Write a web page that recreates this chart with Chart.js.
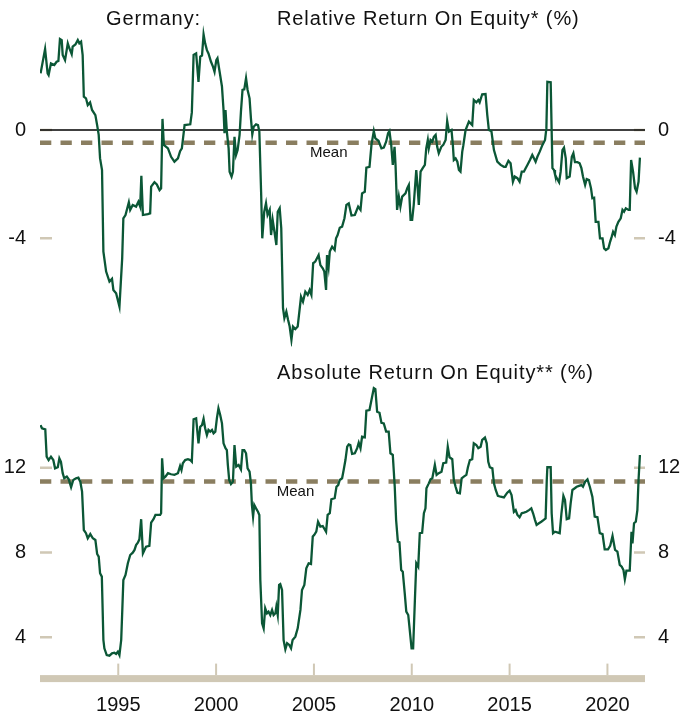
<!DOCTYPE html>
<html>
<head>
<meta charset="utf-8">
<script src="https://cdn.jsdelivr.net/npm/chart.js@4.4.0/dist/chart.umd.min.js"></script>
<style>
  body { margin: 0; background: #fff; }
  #wrap { position: relative; width: 683px; height: 715px; font-family: 'Liberation Sans', Arial, sans-serif; color: #111; }
  #wrap canvas { position: absolute; left: 0; }
  .title { position: absolute; font-size: 20px; line-height: 20px; letter-spacing: 0.9px; white-space: nowrap; }
</style>
</head>
<body>
<div id="wrap">
  <canvas id="chart-rel" width="683" height="360" style="top:0"></canvas>
  <canvas id="chart-abs" width="683" height="355" style="top:360px"></canvas>
  <div class="title" style="left:106px; top:8px;">Germany:</div>
  <div class="title" style="left:277px; top:8px;">Relative Return On Equity* (%)</div>
  <div class="title" style="left:277px; top:362px;">Absolute Return On Equity** (%)</div>
</div>
<script>
// Relative ROE (percentage points vs. market)
const relYears = [
  1991.03, 1991.26, 1991.39, 1991.44, 1991.56, 1991.73, 1991.85, 1991.94, 1992.02, 1992.11,
  1992.16, 1992.28, 1992.42, 1992.50, 1992.62, 1992.67, 1992.81, 1992.93, 1993.01, 1993.10,
  1993.18, 1993.24, 1993.35, 1993.44, 1993.56, 1993.66, 1993.83, 1993.92, 1994.00, 1994.07,
  1994.17, 1994.24, 1994.38, 1994.55, 1994.68, 1994.75, 1994.89, 1995.06, 1995.20, 1995.26,
  1995.37, 1995.54, 1995.61, 1995.74, 1995.91, 1996.03, 1996.12, 1996.18, 1996.26, 1996.51,
  1996.63, 1996.68, 1996.85, 1996.97, 1997.11, 1997.19, 1997.26, 1997.33, 1997.54, 1997.70,
  1997.87, 1998.05, 1998.16, 1998.25, 1998.39, 1998.68, 1998.76, 1998.85, 1998.98, 1999.10,
  1999.19, 1999.28, 1999.36, 1999.44, 1999.53, 1999.61, 1999.74, 1999.84, 1999.92, 2000.01,
  2000.07, 2000.18, 2000.30, 2000.38, 2000.43, 2000.48, 2000.55, 2000.64, 2000.69, 2000.79,
  2000.86, 2000.94, 2001.02, 2001.10, 2001.20, 2001.27, 2001.35, 2001.44, 2001.53, 2001.61,
  2001.71, 2001.78, 2001.85, 2001.92, 2002.04, 2002.14, 2002.21, 2002.30, 2002.36, 2002.46,
  2002.55, 2002.63, 2002.74, 2002.81, 2002.89, 2002.98, 2003.08, 2003.15, 2003.25, 2003.33,
  2003.42, 2003.49, 2003.59, 2003.68, 2003.76, 2003.85, 2003.93, 2004.05, 2004.17, 2004.34,
  2004.44, 2004.56, 2004.68, 2004.78, 2004.87, 2004.96, 2005.07, 2005.24, 2005.33, 2005.45,
  2005.53, 2005.62, 2005.67, 2005.75, 2005.81, 2005.93, 2006.06, 2006.13, 2006.21, 2006.32,
  2006.44, 2006.56, 2006.66, 2006.78, 2006.92, 2007.09, 2007.26, 2007.38, 2007.46, 2007.60,
  2007.68, 2007.84, 2007.94, 2008.06, 2008.14, 2008.30, 2008.45, 2008.57, 2008.69, 2008.79,
  2008.86, 2008.95, 2009.03, 2009.12, 2009.17, 2009.25, 2009.34, 2009.42, 2009.51, 2009.68,
  2009.77, 2009.85, 2009.94, 2010.02, 2010.10, 2010.23, 2010.29, 2010.36, 2010.45, 2010.56,
  2010.67, 2010.74, 2010.82, 2010.87, 2010.96, 2011.05, 2011.13, 2011.22, 2011.30, 2011.38,
  2011.51, 2011.61, 2011.73, 2011.81, 2011.90, 2012.03, 2012.10, 2012.15, 2012.24, 2012.33,
  2012.41, 2012.49, 2012.58, 2012.63, 2012.75, 2012.92, 2013.09, 2013.17, 2013.30, 2013.40,
  2013.47, 2013.60, 2013.77, 2013.86, 2013.94, 2014.07, 2014.20, 2014.37, 2014.54, 2014.71,
  2014.80, 2014.94, 2015.05, 2015.17, 2015.26, 2015.40, 2015.51, 2015.62, 2015.73, 2015.82,
  2015.91, 2016.04, 2016.16, 2016.25, 2016.33, 2016.42, 2016.54, 2016.68, 2016.81, 2016.88,
  2016.93, 2017.10, 2017.15, 2017.19, 2017.27, 2017.32, 2017.41, 2017.53, 2017.61, 2017.70,
  2017.78, 2017.87, 2017.92, 2018.07, 2018.18, 2018.26, 2018.34, 2018.47, 2018.58, 2018.67,
  2018.75, 2018.86, 2018.94, 2019.06, 2019.16, 2019.23, 2019.32, 2019.40, 2019.54, 2019.62,
  2019.75, 2019.83, 2019.92, 2020.05, 2020.14, 2020.22, 2020.29, 2020.38, 2020.46, 2020.56,
  2020.68, 2020.77, 2020.85, 2020.94, 2021.08, 2021.14, 2021.21, 2021.31, 2021.41, 2021.49,
  2021.59, 2021.66
];
const relValues = [
  2.09, 2.99, 2.09, 2.03, 2.46, 2.40, 2.52, 2.55, 3.36, 3.32,
  2.77, 2.58, 3.20, 3.02, 2.80, 3.08, 3.16, 3.32, 3.20, 3.26,
  2.77, 1.23, 1.17, 0.92, 1.02, 0.74, 0.55, 0.18, -0.18, -1.05,
  -1.48, -4.49, -5.23, -5.60, -5.50, -5.91, -6.03, -6.52, -4.74, -3.26,
  -3.14, -2.67, -2.95, -2.77, -2.83, -2.65, -2.83, -1.69, -3.14, -3.11,
  -3.08, -2.09, -1.93, -2.01, -2.22, -2.15, 0.41, -0.55, -0.68, -0.99,
  -1.17, -1.05, -0.78, -0.68, 0.18, 0.21, 0.65, 2.77, 2.83, 1.78,
  2.71, 2.75, 3.53, 3.20, 2.95, 2.83, 2.52, 2.34, 2.15, 2.58,
  2.65, 2.15, 1.60, 0.74, -0.12, 0.74, -0.06, -0.68, -1.54, -1.72,
  -1.54, -0.25, -0.92, -0.74, -0.18, 0.68, 1.48, 1.50, 1.91, 1.48,
  1.17, 0.43, -0.16, 0.12, 0.21, 0.18, -0.06, -2.28, -4.00, -3.02,
  -2.71, -3.14, -2.95, -3.88, -3.32, -3.75, -4.25, -3.02, -2.89, -3.63,
  -6.58, -6.95, -6.71, -7.02, -7.26, -7.75, -7.26, -7.35, -7.26, -6.16,
  -6.34, -5.97, -6.09, -5.91, -6.09, -4.92, -4.86, -4.62, -4.99, -5.11,
  -5.23, -5.91, -4.62, -5.05, -4.49, -4.31, -4.43, -4.00, -3.88, -3.61,
  -3.57, -3.26, -2.77, -2.71, -3.16, -3.14, -2.83, -2.95, -2.34, -2.28,
  -1.39, -1.36, -0.55, -0.04, -0.31, -0.40, -0.68, -0.65, -0.43, -0.12,
  -0.04, -0.55, -1.29, -0.62, -1.29, -2.95, -2.46, -2.83, -2.46, -2.34,
  -2.15, -2.03, -3.32, -3.32, -2.77, -1.48, -2.03, -2.77, -1.54, -1.41,
  -1.29, -0.68, -0.37, -0.68, -0.37, -0.43, -0.25, -0.18, -0.62, -0.86,
  -0.62, -0.55, -0.37, 0.33, -0.06, 0.00, -0.55, -1.11, -1.05, -1.17,
  -1.48, -1.54, -0.80, -0.59, 0.00, 0.31, 0.18, 1.11, 1.02, 1.11,
  1.02, 1.32, 1.33, 0.55, 0.00, -0.04, -0.74, -1.17, -1.29, -1.36,
  -1.36, -1.14, -1.23, -1.91, -1.72, -1.78, -1.91, -1.54, -1.54, -1.41,
  -1.29, -1.11, -0.92, -1.05, -1.17, -0.99, -0.80, -0.55, -0.37, 0.06,
  1.78, 1.76, -0.06, -1.41, -1.48, -1.64, -1.78, -1.93, -1.54, -0.74,
  -0.65, -1.05, -1.78, -1.72, -0.99, -0.86, -1.19, -1.19, -1.23, -1.41,
  -1.72, -2.03, -1.81, -1.85, -2.15, -2.52, -2.50, -3.39, -3.39, -4.00,
  -4.00, -4.37, -4.43, -4.37, -4.12, -3.94, -3.76, -3.88, -3.57, -3.39,
  -3.26, -2.95, -3.02, -2.89, -2.95, -2.95, -1.11, -1.54, -2.15, -2.28,
  -1.91, -1.02
];
const relMean = -0.47;
const relTicks = [0, -4];

// Absolute ROE (%)
const absYears = [
  1991.03, 1991.10, 1991.27, 1991.34, 1991.44, 1991.56, 1991.68, 1991.77, 1991.91, 1991.99,
  1992.07, 1992.16, 1992.24, 1992.37, 1992.47, 1992.59, 1992.70, 1992.84, 1992.96, 1993.06,
  1993.15, 1993.24, 1993.35, 1993.44, 1993.57, 1993.70, 1993.83, 1993.92, 1994.00, 1994.07,
  1994.16, 1994.24, 1994.29, 1994.41, 1994.55, 1994.68, 1994.80, 1994.89, 1994.98, 1995.06,
  1995.15, 1995.20, 1995.26, 1995.37, 1995.49, 1995.61, 1995.74, 1995.83, 1995.91, 1996.00,
  1996.08, 1996.17, 1996.26, 1996.34, 1996.42, 1996.59, 1996.68, 1996.80, 1996.90, 1997.14,
  1997.19, 1997.24, 1997.31, 1997.41, 1997.54, 1997.70, 1997.87, 1998.05, 1998.16, 1998.23,
  1998.30, 1998.42, 1998.56, 1998.68, 1998.76, 1998.85, 1998.98, 1999.10, 1999.19, 1999.28,
  1999.36, 1999.44, 1999.53, 1999.61, 1999.70, 1999.79, 1999.87, 1999.96, 2000.04, 2000.12,
  2000.21, 2000.30, 2000.38, 2000.48, 2000.55, 2000.60, 2000.67, 2000.76, 2000.86, 2000.94,
  2001.03, 2001.15, 2001.27, 2001.35, 2001.44, 2001.53, 2001.61, 2001.71, 2001.78, 2001.83,
  2001.89, 2001.95, 2002.04, 2002.14, 2002.21, 2002.26, 2002.35, 2002.43, 2002.51, 2002.60,
  2002.68, 2002.77, 2002.86, 2002.94, 2003.03, 2003.08, 2003.15, 2003.22, 2003.28, 2003.37,
  2003.45, 2003.54, 2003.63, 2003.74, 2003.83, 2003.91, 2004.05, 2004.17, 2004.31, 2004.39,
  2004.51, 2004.61, 2004.73, 2004.85, 2004.94, 2005.02, 2005.12, 2005.21, 2005.33, 2005.45,
  2005.62, 2005.70, 2005.81, 2005.89, 2006.06, 2006.15, 2006.24, 2006.32, 2006.44, 2006.52,
  2006.61, 2006.70, 2006.78, 2006.86, 2006.95, 2007.09, 2007.21, 2007.29, 2007.38, 2007.46,
  2007.60, 2007.68, 2007.84, 2007.94, 2008.06, 2008.14, 2008.23, 2008.35, 2008.45, 2008.57,
  2008.69, 2008.82, 2008.91, 2009.03, 2009.13, 2009.20, 2009.29, 2009.37, 2009.46, 2009.54,
  2009.64, 2009.72, 2009.82, 2009.88, 2009.99, 2010.07, 2010.16, 2010.23, 2010.33, 2010.41,
  2010.53, 2010.62, 2010.70, 2010.75, 2010.87, 2010.96, 2011.05, 2011.18, 2011.27, 2011.38,
  2011.52, 2011.61, 2011.76, 2011.84, 2011.93, 2012.07, 2012.15, 2012.24, 2012.33, 2012.46,
  2012.55, 2012.66, 2012.79, 2012.87, 2012.97, 2013.09, 2013.17, 2013.30, 2013.40, 2013.52,
  2013.60, 2013.74, 2013.83, 2013.91, 2013.99, 2014.12, 2014.20, 2014.29, 2014.40, 2014.54,
  2014.71, 2014.88, 2015.00, 2015.10, 2015.22, 2015.31, 2015.40, 2015.51, 2015.62, 2015.73,
  2015.86, 2015.99, 2016.11, 2016.20, 2016.30, 2016.38, 2016.50, 2016.62, 2016.73, 2016.84,
  2016.90, 2016.93, 2017.10, 2017.15, 2017.22, 2017.32, 2017.56, 2017.65, 2017.75, 2017.83,
  2017.92, 2018.04, 2018.12, 2018.21, 2018.33, 2018.43, 2018.55, 2018.67, 2018.75, 2018.86,
  2018.98, 2019.10, 2019.23, 2019.35, 2019.49, 2019.61, 2019.75, 2019.86, 2020.03, 2020.14,
  2020.26, 2020.39, 2020.51, 2020.63, 2020.73, 2020.82, 2020.89, 2020.97, 2021.14, 2021.23,
  2021.28, 2021.36, 2021.45, 2021.53, 2021.59, 2021.66
];
const absValues = [
  14.01, 13.86, 13.81, 12.52, 12.36, 12.52, 12.36, 11.97, 12.02, 12.44,
  12.28, 11.74, 11.50, 11.58, 11.45, 11.08, 11.42, 11.50, 11.53, 11.34,
  10.87, 9.06, 8.91, 8.67, 8.87, 8.67, 8.59, 7.93, 7.80, 7.02,
  6.86, 3.87, 3.48, 3.16, 3.13, 3.24, 3.27, 3.21, 3.32, 3.16,
  3.87, 5.13, 6.70, 6.94, 7.49, 7.88, 7.99, 8.12, 8.35, 8.46,
  8.62, 9.57, 7.96, 8.12, 8.27, 8.31, 9.41, 9.57, 9.77, 9.77,
  9.85, 12.44, 11.50, 11.58, 11.74, 11.69, 11.66, 11.74, 12.08, 11.89,
  12.21, 12.36, 12.40, 12.36, 12.28, 14.28, 14.33, 13.15, 13.93, 14.01,
  14.30, 13.86, 13.54, 13.78, 13.70, 13.78, 13.62, 13.70, 14.33, 14.80,
  14.49, 14.09, 13.15, 12.92, 12.83, 12.13, 11.42, 11.23, 11.34, 13.07,
  12.05, 12.13, 11.92, 12.83, 12.83, 12.68, 11.97, 11.81, 11.26, 10.24,
  9.69, 10.24, 10.08, 9.92, 9.77, 6.70, 4.66, 4.42, 5.37, 5.13,
  5.21, 5.05, 5.29, 5.05, 5.13, 5.44, 5.05, 6.47, 6.51, 6.23,
  3.87, 3.43, 3.72, 3.64, 3.48, 3.87, 4.03, 4.42, 5.29, 6.23,
  6.47, 7.25, 7.49, 7.46, 8.75, 8.83, 8.98, 9.45, 9.22, 9.25,
  8.98, 9.77, 9.85, 10.51, 10.56, 11.10, 11.18, 11.42, 11.50, 11.89,
  12.36, 12.99, 13.10, 13.07, 12.65, 12.68, 12.92, 13.18, 12.92, 13.46,
  13.43, 14.69, 14.72, 15.19, 15.75, 15.70, 14.64, 14.59, 14.12, 14.09,
  13.70, 13.70, 12.68, 12.60, 11.10, 9.53, 8.51, 8.48, 7.17, 7.09,
  6.08, 5.21, 5.05, 4.50, 3.48, 3.48, 5.76, 7.49, 7.33, 8.91,
  8.93, 9.85, 10.08, 11.03, 11.26, 11.45, 11.50, 12.13, 11.66, 11.74,
  11.81, 12.21, 12.24, 12.99, 12.49, 12.40, 11.42, 11.10, 10.82, 10.79,
  11.50, 11.58, 11.66, 12.02, 12.36, 12.40, 13.15, 13.07, 12.92, 12.99,
  13.31, 13.42, 13.15, 12.28, 12.02, 11.97, 11.26, 10.95, 10.67, 10.63,
  10.60, 10.82, 10.92, 10.71, 9.92, 10.00, 9.77, 9.66, 9.85, 9.88,
  9.92, 10.00, 10.08, 9.85, 9.53, 9.30, 9.38, 9.45, 9.53, 9.61,
  11.42, 12.02, 12.02, 9.85, 8.91, 8.98, 8.91, 9.85, 10.67, 10.48,
  9.57, 9.61, 10.32, 10.95, 11.03, 11.10, 11.14, 11.18, 11.10, 11.34,
  11.45, 11.10, 10.63, 9.69, 9.66, 8.91, 8.87, 8.15, 8.15, 8.31,
  8.78, 8.12, 8.04, 7.41, 7.33, 7.17, 6.74, 7.14, 7.14, 8.98,
  8.43, 9.38, 9.45, 10.00, 11.42, 12.60
];
const absMean = 11.35;
const absTicks = [12, 8, 4];

const yearTicks = [1995, 2000, 2005, 2010, 2015, 2020];
const X_MIN = 1991, X_MAX = 2021.92;

const GREEN = '#0b5736';
const MEAN_COLOR = '#8a7e60';
const AXIS_BEIGE = '#d0c8b5';
const TEXT = '#111111';
const FONT = "'Liberation Sans', Arial, sans-serif";

const toPoints = (xs, ys) => xs.map((x, i) => ({ x, y: ys[i] }));
const flatLine = v => [{ x: X_MIN, y: v }, { x: X_MAX, y: v }];

// short tick marks inside the plot and the bottom band go under the lines;
// the "Mean" tag goes on top
const panelDecor = {
  id: 'panelDecor',
  beforeDatasetsDraw(chart, args, opts) {
    const { ctx, chartArea: a, scales } = chart;
    ctx.save();
    ctx.strokeStyle = AXIS_BEIGE;
    ctx.lineWidth = 2.5;
    opts.yTicks.forEach(v => {
      const y = scales.y.getPixelForValue(v);
      ctx.beginPath();
      ctx.moveTo(a.left, y); ctx.lineTo(a.left + 12, y);
      ctx.moveTo(a.right - 11, y); ctx.lineTo(a.right, y);
      ctx.stroke();
    });
    if (opts.band) {
      ctx.fillStyle = AXIS_BEIGE;
      ctx.fillRect(a.left, a.bottom - 3.5, a.right - a.left, 7);
      ctx.lineWidth = 2;
      yearTicks.forEach(yr => {
        const x = scales.x.getPixelForValue(yr);
        ctx.beginPath();
        ctx.moveTo(x, a.bottom - 15); ctx.lineTo(x, a.bottom - 3.5);
        ctx.stroke();
      });
    }
    ctx.restore();
  },
  afterDatasetsDraw(chart, args, opts) {
    const { ctx, scales } = chart;
    ctx.save();
    ctx.fillStyle = TEXT;
    ctx.font = '15px ' + FONT;
    ctx.textBaseline = 'middle';
    ctx.textAlign = 'left';
    ctx.fillText('Mean', scales.x.getPixelForValue(opts.meanLabelAt), scales.y.getPixelForValue(opts.mean) + 10);
    ctx.restore();
  }
};

function yAxis(position, min, max, ticks, width, pad) {
  return {
    type: 'linear',
    position,
    min, max,
    grid: { display: false, drawTicks: false },
    border: { display: false },
    afterBuildTicks: s => { s.ticks = ticks.map(v => ({ value: v })); },
    afterFit: s => {
      s.width = width;
      // labels sit well inside the range, no extra room needed above/below
      s.paddingTop = 0;
      s.paddingBottom = 0;
    },
    ticks: {
      padding: pad,
      color: TEXT,
      font: { family: FONT, size: 20 },
      callback: v => String(v)
    }
  };
}

function renderPanel(canvasId, cfg) {
  const datasets = [{
    data: toPoints(cfg.years, cfg.values),
    borderColor: GREEN,
    borderWidth: 2.3,
    pointRadius: 0,
    tension: 0
  }, {
    data: flatLine(cfg.mean),
    borderColor: MEAN_COLOR,
    borderWidth: 4.5,
    borderDash: [11.3, 9.2],
    pointRadius: 0
  }];
  if (cfg.zeroLine) {
    datasets.push({ data: flatLine(0), borderColor: '#000', borderWidth: 1.6, pointRadius: 0 });
  }

  return new Chart(document.getElementById(canvasId), {
    type: 'line',
    data: { datasets },
    options: {
      responsive: false,
      animation: false,
      events: [],
      layout: { padding: cfg.padding },
      plugins: {
        legend: { display: false },
        tooltip: { enabled: false },
        panelDecor: { yTicks: cfg.ticks, mean: cfg.mean, meanLabelAt: cfg.meanLabelAt, band: cfg.showYears }
      },
      scales: {
        x: {
          type: 'linear',
          min: X_MIN, max: X_MAX,
          display: cfg.showYears,
          grid: { display: false, drawTicks: false },
          border: { display: false },
          afterBuildTicks: s => { s.ticks = yearTicks.map(v => ({ value: v })); },
          afterFit: s => { s.height = cfg.xAxisHeight || 0; s.paddingLeft = 0; s.paddingRight = 0; },
          ticks: {
            padding: 15,
            maxRotation: 0,
            color: TEXT,
            font: { family: FONT, size: 20 },
            callback: v => String(v)
          }
        },
        y: yAxis('left', cfg.min, cfg.max, cfg.ticks, 40, 14),
        y2: yAxis('right', cfg.min, cfg.max, cfg.ticks, 38, 13)
      }
    },
    plugins: [panelDecor]
  });
}

renderPanel('chart-rel', {
  years: relYears, values: relValues, mean: relMean, ticks: relTicks,
  min: -8, max: 4, zeroLine: true, showYears: false,
  meanLabelAt: 2004.8,
  padding: { top: 21.7, bottom: 13.4, left: 0, right: 0 }
});

renderPanel('chart-abs', {
  years: absYears, values: absValues, mean: absMean, ticks: absTicks,
  min: 2.05, max: 16, zeroLine: false, showYears: true, xAxisHeight: 36.4,
  meanLabelAt: 2003.1,
  padding: { top: 22.9, bottom: 0, left: 0, right: 0 }
});
</script>
</body>
</html>
